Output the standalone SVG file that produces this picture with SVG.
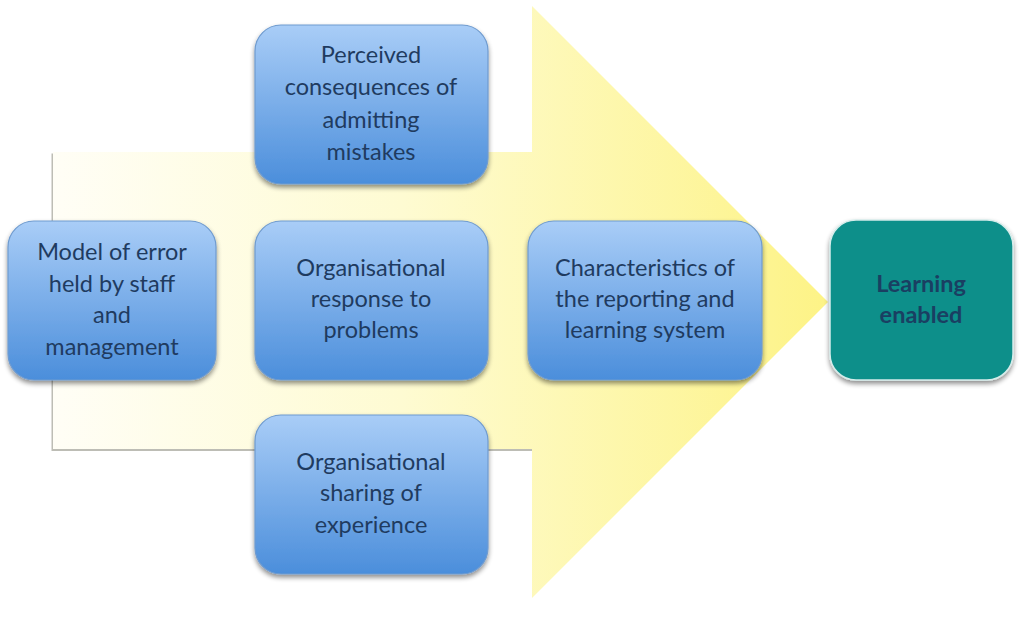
<svg xmlns="http://www.w3.org/2000/svg" width="1024" height="623" viewBox="0 0 1024 623">
<style>
.box{fill:url(#blue);stroke:#6f9bcf;stroke-width:1.2;filter:url(#sh)}
.t{font-family:Lato,"Open Sans",sans-serif;font-size:23.5px;fill:#1f3b60;text-anchor:middle}
.tb{font-weight:bold;fill:#1a3f62}
</style>
<defs>
<linearGradient id="blue" x1="0" y1="0" x2="0" y2="1">
<stop offset="0" stop-color="#a9cdf7"/>
<stop offset="1" stop-color="#4b8edb"/>
</linearGradient>
<linearGradient id="yel" x1="53" y1="0" x2="828" y2="0" gradientUnits="userSpaceOnUse">
<stop offset="0" stop-color="#fffef6"/>
<stop offset="0.45" stop-color="#fefbd2"/>
<stop offset="1" stop-color="#fdf386"/>
</linearGradient>
<filter id="sh" x="-10%" y="-10%" width="120%" height="130%">
<feGaussianBlur in="SourceAlpha" stdDeviation="2.5"/>
<feOffset dx="0" dy="3" result="b"/>
<feComponentTransfer><feFuncA type="linear" slope="0.45"/></feComponentTransfer>
<feMerge><feMergeNode/><feMergeNode in="SourceGraphic"/></feMerge>
</filter>
</defs>
<g id="arrow">
<rect x="51.5" y="153.5" width="482" height="297.5" fill="#bdbdb5"/>
<polygon points="53,152 532,152 532,6 828,302 532,598 532,449 53,449" fill="url(#yel)"/>
</g>
<g id="connectors"></g>
<g id="n-model">
<rect class="box" x="8" y="221" width="208" height="159" rx="26"/>
<text class="t"><tspan x="112" y="260">Model of error</tspan><tspan x="112" y="292">held by staff</tspan><tspan x="112" y="323">and</tspan><tspan x="112" y="355">management</tspan></text>
</g>
<g id="n-perceived">
<rect class="box" x="255" y="25" width="233" height="159" rx="26"/>
<text class="t"><tspan x="371" y="63">Perceived</tspan><tspan x="371" y="95">consequences of</tspan><tspan x="371" y="128">admitting</tspan><tspan x="371" y="160">mistakes</tspan></text>
</g>
<g id="n-response">
<rect class="box" x="255" y="221" width="233" height="159" rx="26"/>
<text class="t"><tspan x="371" y="276">Organisational</tspan><tspan x="371" y="307">response to</tspan><tspan x="371" y="338">problems</tspan></text>
</g>
<g id="n-sharing">
<rect class="box" x="255" y="415" width="233" height="159" rx="26"/>
<text class="t"><tspan x="371" y="470">Organisational</tspan><tspan x="371" y="501">sharing of</tspan><tspan x="371" y="533">experience</tspan></text>
</g>
<g id="n-characteristics">
<rect class="box" x="528" y="221" width="234" height="159" rx="26"/>
<text class="t"><tspan x="645" y="276">Characteristics of</tspan><tspan x="645" y="307">the reporting and</tspan><tspan x="645" y="338">learning system</tspan></text>
</g>
<g id="n-learning">
<rect x="830" y="220" width="183" height="160" rx="26" fill="#0b8f8a" stroke="#d6ecea" stroke-width="1.5" filter="url(#sh)"/>
<text class="t tb"><tspan x="921" y="292">Learning</tspan><tspan x="921" y="323">enabled</tspan></text>
</g>
</svg>
